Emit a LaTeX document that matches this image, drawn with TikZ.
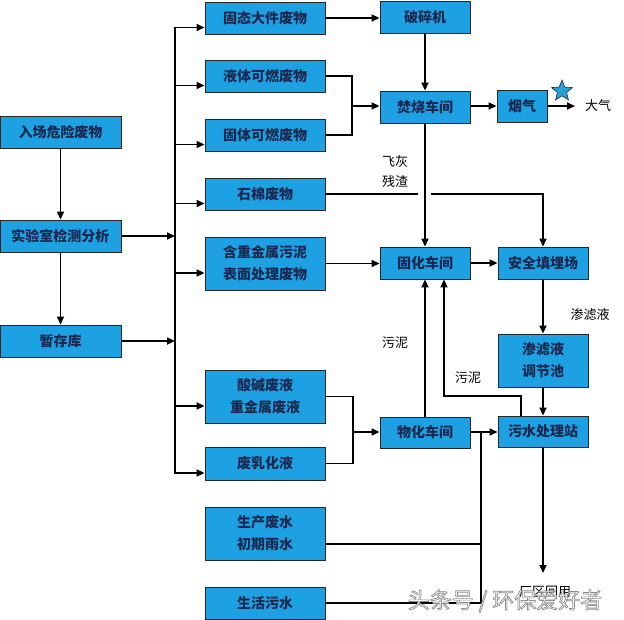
\documentclass[tikz,border=0pt]{standalone}
\usepackage{fontspec}
\newfontfamily\cjk{Noto Sans CJK SC}
\usetikzlibrary{arrows.meta,shapes.geometric}
\definecolor{boxblue}{RGB}{29,161,226}
\definecolor{navy}{RGB}{27,40,80}
\definecolor{starblue}{RGB}{40,160,210}
\begin{document}
\begin{tikzpicture}[x=1pt,y=-1pt,
  box/.style={draw=black!85,line width=0.9pt,fill=boxblue,inner sep=0pt,align=center,
    text=navy,font=\cjk\bfseries\fontsize{14}{22}\selectfont},
  lbl/.style={font=\cjk\fontsize{13}{20}\selectfont,inner sep=0pt,text=black},
  conn/.style={line width=1.8pt,black},
  arr/.style={conn,-{Triangle[length=8pt,width=7pt]}}]
\useasboundingbox[fill=white] (0,0) rectangle (624,620);

% left column
\node[box,minimum width=121pt,minimum height=32pt] (in) at (60.5,132) {入场危险废物};
\node[box,minimum width=121pt,minimum height=32pt] (lab) at (60.5,236) {实验室检测分析};
\node[box,minimum width=121pt,minimum height=32pt] (store) at (60.5,341) {暂存库};

% middle column
\node[box,minimum width=120pt,minimum height=32pt] (g1) at (265,18) {固态大件废物};
\node[box,minimum width=120pt,minimum height=32pt] (g2) at (265,76) {液体可燃废物};
\node[box,minimum width=120pt,minimum height=32pt] (g3) at (265,135) {固体可燃废物};
\node[box,minimum width=120pt,minimum height=32pt] (g4) at (265,194) {石棉废物};
\node[box,minimum width=120pt,minimum height=53pt] (g5) at (265,263.5) {含重金属污泥\\表面处理废物};
\node[box,minimum width=120pt,minimum height=53pt] (g6) at (265,396.5) {酸碱废液\\重金属废液};
\node[box,minimum width=120pt,minimum height=33pt] (g7) at (265,463.5) {废乳化液};
\node[box,minimum width=120pt,minimum height=53pt] (g8) at (265,533.5) {生产废水\\初期雨水};
\node[box,minimum width=120pt,minimum height=32pt] (g9) at (265,603) {生活污水};

% process column
\node[box,minimum width=90pt,minimum height=32pt] (crush) at (425,17) {破碎机};
\node[box,minimum width=90pt,minimum height=32pt] (burn) at (425,107) {焚烧车间};
\node[box,minimum width=50pt,minimum height=32pt] (smoke) at (522,106) {烟气};
\node[box,minimum width=90pt,minimum height=32pt] (solid) at (425,263) {固化车间};
\node[box,minimum width=90pt,minimum height=32pt] (land) at (543,263) {安全填埋场};
\node[box,minimum width=90pt,minimum height=53pt] (pool) at (543,360.5) {渗滤液\\调节池};
\node[box,minimum width=90pt,minimum height=31pt] (sew) at (543,431.5) {污水处理站};
\node[box,minimum width=90pt,minimum height=31pt] (phys) at (425,432.5) {物化车间};

% text labels
\node[lbl] (air) at (598,106) {大气};
\node[lbl,anchor=west] (fly) at (382,162) {飞灰};
\node[lbl,anchor=west] (slag) at (382,182) {残渣};
\node[lbl] (mud1) at (395,343) {污泥};
\node[lbl] (mud2) at (468,378) {污泥};
\node[lbl] (leach) at (590,315) {渗滤液};
\node[lbl] (reuse) at (545,592) {厂区回用};
\node[star,star points=5,star point ratio=2.3,minimum size=22pt,inner sep=0pt,
  fill=starblue,draw=navy,line width=0.6pt] (st) at (562,91) {};

% bus
\coordinate (busT) at (175,27);
\coordinate (busB) at (175,474);
\draw[conn] (busT) -- (busB);
\draw[arr] (in) -- (lab);
\draw[arr] (lab) -- (store);
\draw[arr] (lab.east) -- (lab.east -| busT);
\draw[arr] (store.east) -- (store.east -| busT);
\foreach \n in {g1,g2,g3,g4,g5,g6,g7}{
  \draw[arr] ([yshift=-9.5pt]\n.west -| busT) -- ([yshift=-9.5pt]\n.west);
}

% incineration
\draw[arr] (g1) -- (g1 -| crush.west);
\draw[arr] (crush) -- (burn);
\coordinate (m1) at (352,106);
\draw[conn] (g2.east) -- (g2.east -| m1) -- (g3.east -| m1) -- (g3.east);
\draw[arr] (m1) -- (burn.west |- m1);
\draw[arr] (burn.east |- smoke) -- (smoke);
\coordinate (airend) at (575,106);
\draw[arr] (smoke) -- (airend);
\draw[arr] (burn) -- (solid);

% asbestos line with gap
\coordinate (gapL) at (418,194);
\coordinate (gapR) at (431,194);
\draw[conn] (g4.east) -- (gapL);
\draw[arr] (gapR) -- (gapR -| land) -- (land.north);

\draw[arr] (g5.east) -- (g5.east -| solid.west);
\draw[arr] (solid) -- (land);
\draw[arr] (land) -- (pool);
\draw[arr] (pool) -- (sew);

% physicochemical
\coordinate (m2) at (353,432);
\draw[conn] (g6.east) -- (g6.east -| m2) -- (g7.east -| m2) -- (g7.east);
\draw[arr] (m2) -- (phys.west |- m2);
\draw[arr] (phys.east |- m2) -- (sew.west |- m2);
\coordinate (col) at (481,432);
\draw[conn] (col) -- (col |- g9);
\draw[conn] ([yshift=-10.5pt]g8.east) -- ([yshift=-10.5pt]g8.east -| col);
\draw[conn] (g9.east) -- (g9.east -| col);
\draw[arr] (phys.north) -- (solid.south);
\coordinate (r1) at (521,396);
\coordinate (r2) at (444,396);
\draw[arr] (sew.north -| r1) -- (r1) -- (r2) -- (r2 |- solid.south);
\coordinate (reuseT) at (543,573);
\draw[arr] (sew) -- (reuseT);

% watermark: white text with grey outline
\node[font=\cjk\fontsize{22}{24}\selectfont,text=white,inner sep=0pt] (wm) at (505,601)
  {\special{pdf:literal direct 0.55 G 0.7 w 2 Tr}头条号 / 环保爱好者\special{pdf:literal direct 0 Tr}};
\end{tikzpicture}
\end{document}
